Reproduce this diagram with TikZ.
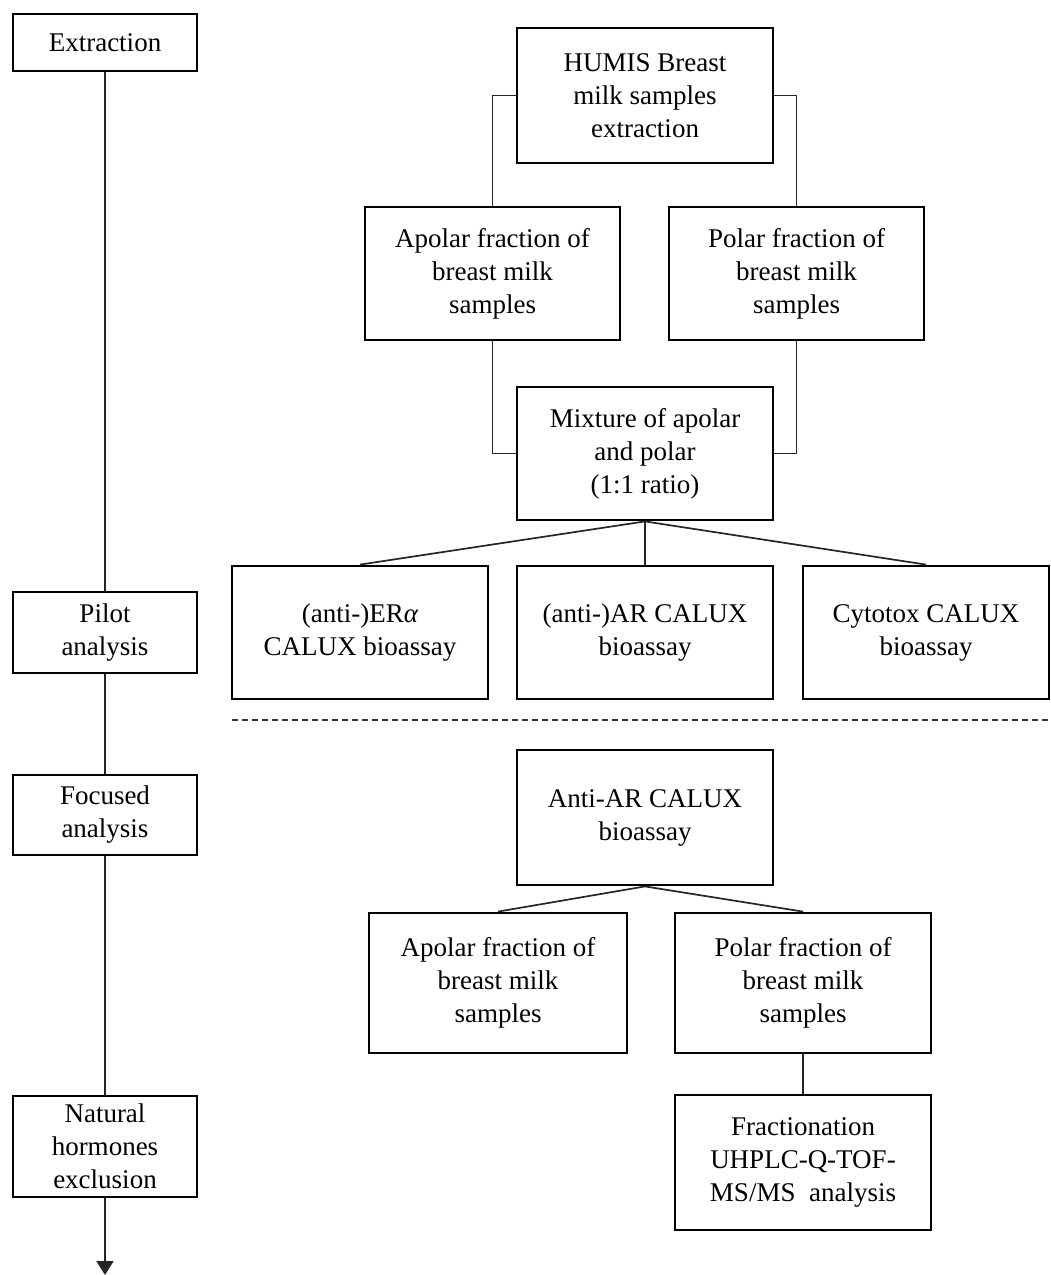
\documentclass[tikz,border=0pt]{standalone}
\usepackage{fontspec}
\setmainfont{Liberation Serif}
\usetikzlibrary{arrows.meta}
\begin{document}
\begin{tikzpicture}[x=1pt,y=-1pt,
  box/.style={draw=black, line width=2.8pt, align=center, inner sep=0pt,
    minimum width=256pt, minimum height=133pt, font=\fontsize{27}{33}\selectfont},
  lbox/.style={box, minimum width=184pt},
  conn/.style={draw=black!85, line width=1.7pt}]
\useasboundingbox (0,0) rectangle (1051,1275);
\fill[white] (0,0) rectangle (1051,1275);
% left column
\node[lbox, minimum height=57pt] (ext) at (105,42.5) {Extraction};
\node[lbox, minimum height=81pt] (pilot) at (105,632.5) {Pilot\\analysis};
\node[lbox, minimum height=80pt] (focused) at (105,815) {Focused\\analysis};
\node[lbox, minimum height=101pt] (natural) at (105,1146.5) {Natural\\hormones\\exclusion};
\coordinate (end) at (105,1275);
\draw[conn] (ext) -- (pilot);
\draw[conn] (pilot) -- (focused);
\draw[conn] (focused) -- (natural);
\draw[conn, -{Triangle[width=17pt,length=14pt]}] (natural) -- (end);
% right column
\node[box, minimum height=135pt] (humis) at (645,95.5) {HUMIS Breast\\milk samples\\extraction};
\node[box, minimum width=255pt] (apolarA) at (492.5,273.5) {Apolar fraction of\\breast milk\\samples};
\node[box, minimum width=255pt] (polarA) at (796.5,273.5) {Polar fraction of\\breast milk\\samples};
\node[box] (mix) at (645,453.5) {Mixture of apolar\\and polar\\(1:1 ratio)};
\node[box] (er) at (360,632.5) {(anti-)ER{\itshape α}\\CALUX bioassay};
\node[box] (ar) at (645,632.5) {(anti-)AR CALUX\\bioassay};
\node[box, minimum width=246pt] (cyto) at (926,632.5) {Cytotox CALUX\\bioassay};
\draw[conn] (humis.west) -| (apolarA.north);
\draw[conn] (humis.east) -| (polarA.north);
\draw[conn] (apolarA.south) |- (mix.west);
\draw[conn] (polarA.south) |- (mix.east);
\draw[conn] (mix.south) -- (er.north);
\draw[conn] (mix.south) -- (ar.north);
\draw[conn] (mix.south) -- (cyto.north);
% separator
\coordinate (dashL) at (232,720);
\coordinate (dashR) at (1051,720);
\draw[black!80, line width=1.3pt, dash pattern=on 6pt off 4pt] (dashL) -- (dashR);
% lower part
\node[box, minimum height=135pt] (anti) at (645,817.5) {Anti-AR CALUX\\bioassay};
\node[box, minimum width=258pt, minimum height=140pt] (apolarB) at (498,983) {Apolar fraction of\\breast milk\\samples};
\node[box, minimum height=140pt] (polarB) at (803,983) {Polar fraction of\\breast milk\\samples};
\node[box, minimum height=135pt] (frac) at (803,1162.5) {Fractionation\\UHPLC-Q-TOF-\\MS/MS\ \ analysis};
\draw[conn] (anti.south) -- (apolarB.north);
\draw[conn] (anti.south) -- (polarB.north);
\draw[conn] (polarB) -- (frac);
\end{tikzpicture}
\end{document}
